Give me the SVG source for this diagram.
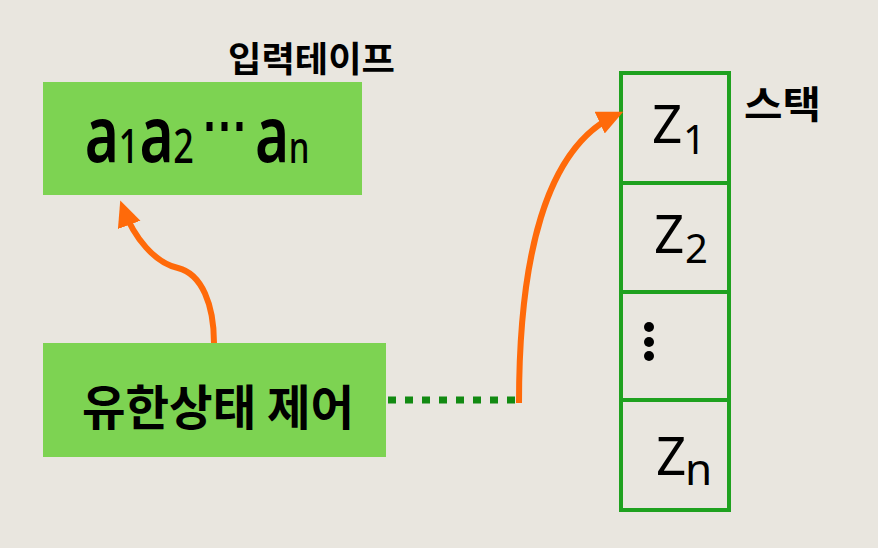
<svg xmlns="http://www.w3.org/2000/svg" width="878" height="548" viewBox="0 0 878 548">
<style>
.box{fill:#7dd352}
.cell{fill:none;stroke:#1fa11f;stroke-width:4}
.kr{font-family:"Noto Sans CJK KR","Noto Sans",sans-serif;font-weight:bold;fill:#000}
.lat{font-family:"Noto Sans","Liberation Sans",sans-serif;fill:#000}
.arr{fill:none;stroke:#ff6a0a;stroke-width:6}
</style>
<defs>
<marker id="ah" markerUnits="userSpaceOnUse" markerWidth="30" markerHeight="30" refX="18" refY="12" orient="auto">
<path d="M0,0 L26,12 L0,24 z" fill="#ff6a0a"/>
</marker>
</defs>
<rect width="878" height="548" fill="#e9e6df"/>
<g id="tape-label"><text class="kr" x="228" y="72" font-size="35" textLength="167" lengthAdjust="spacingAndGlyphs">입력테이프</text></g>
<g id="tape">
<rect class="box" x="43" y="82" width="319" height="113"/>
<text class="lat" font-weight="600" transform="scale(0.75,1)"><tspan x="113" y="162" font-size="78">a</tspan><tspan x="158" y="163" font-size="48" font-weight="500">1</tspan><tspan x="186" y="162" font-size="78">a</tspan><tspan x="231" y="163" font-size="48" font-weight="500">2</tspan><tspan x="270" y="146" font-size="60">⋯</tspan><tspan x="340" y="162" font-size="78">a</tspan><tspan x="385" y="163" font-size="44" font-weight="500">n</tspan></text>
</g>
<g id="control">
<rect class="box" x="43" y="343" width="343" height="114"/>
<text class="kr" x="82" y="425" font-size="48" textLength="272" lengthAdjust="spacingAndGlyphs">유한상태 제어</text>
</g>
<g id="stack-label"><text class="kr" x="744" y="118" font-size="38" textLength="77" lengthAdjust="spacingAndGlyphs">스택</text></g>
<g id="stack">
<rect class="cell" x="621" y="73" width="108" height="437"/>
<line class="cell" x1="621" y1="183" x2="729" y2="183"/>
<line class="cell" x1="621" y1="292" x2="729" y2="292"/>
<line class="cell" x1="621" y1="400" x2="729" y2="400"/>
<text class="lat" font-size="53"><tspan x="652" y="143">Z</tspan><tspan x="683" y="154" font-size="40">1</tspan></text>
<text class="lat" font-size="53"><tspan x="654" y="253">Z</tspan><tspan x="685" y="263" font-size="40">2</tspan></text>
<circle cx="649" cy="327" r="5"/><circle cx="649" cy="342" r="5"/><circle cx="649" cy="356" r="5"/>
<text class="lat" font-size="53"><tspan x="656" y="475">Z</tspan><tspan x="685" y="485" font-size="44">n</tspan></text>
</g>
<g id="connectors">
<line x1="388" y1="400" x2="516" y2="400" stroke="#128a12" stroke-width="7" stroke-dasharray="8,9"/>
<path class="arr" d="M214,343 C214,305 202,274 178,268 C155,263 134,238 123,208" marker-end="url(#ah)"/>
<path class="arr" d="M519,403 C519,260 545,148 616,115" marker-end="url(#ah)"/>
</g>
</svg>
